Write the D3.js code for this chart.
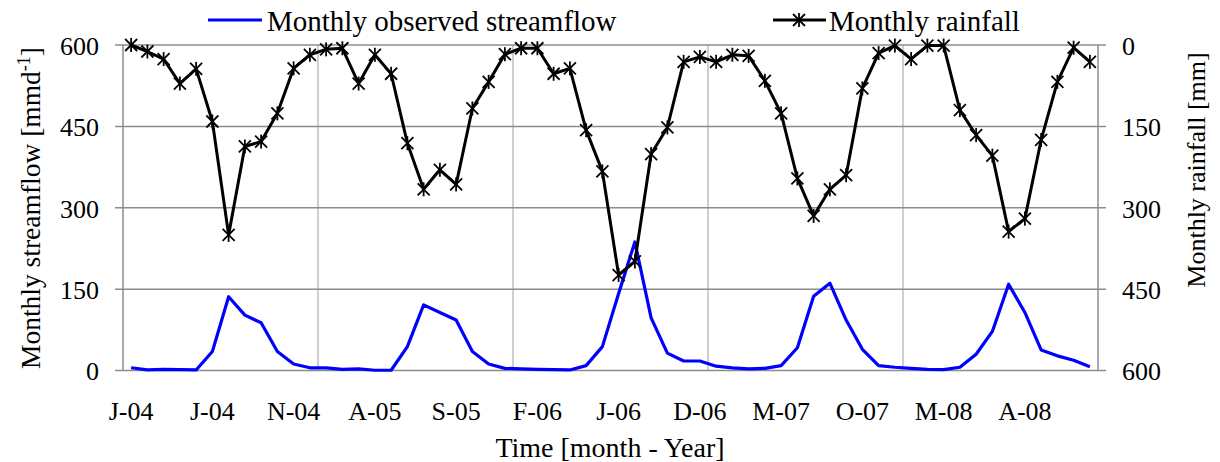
<!DOCTYPE html>
<html>
<head>
<meta charset="utf-8">
<script src="https://cdn.jsdelivr.net/npm/d3@7"></script>
<style>
  html, body { margin: 0; padding: 0; background: #fff; }
  svg, svg text { font-family: "Liberation Serif", "Times New Roman", Times, "DejaVu Serif", serif; }
  svg { display: block; }
</style>
</head>
<body>
<svg id="chart" width="1220" height="462"></svg>
<script>
// Months Jan 2004 – Dec 2008
const months = [
  "2004-01","2004-02","2004-03","2004-04","2004-05","2004-06","2004-07","2004-08","2004-09","2004-10","2004-11","2004-12",
  "2005-01","2005-02","2005-03","2005-04","2005-05","2005-06","2005-07","2005-08","2005-09","2005-10","2005-11","2005-12",
  "2006-01","2006-02","2006-03","2006-04","2006-05","2006-06","2006-07","2006-08","2006-09","2006-10","2006-11","2006-12",
  "2007-01","2007-02","2007-03","2007-04","2007-05","2007-06","2007-07","2007-08","2007-09","2007-10","2007-11","2007-12",
  "2008-01","2008-02","2008-03","2008-04","2008-05","2008-06","2008-07","2008-08","2008-09","2008-10","2008-11","2008-12"
];

// Monthly observed streamflow [mm/d]
const streamflow = [
  5, 1, 2, 1.5, 1, 35, 136, 102, 88, 35,
  12, 5, 5, 2, 3, 0.5, 0.5, 44, 121, 107,
  93, 35, 12, 4, 3, 2, 1.5, 1, 9, 44,
  142, 237, 97, 32, 17.5, 17.5, 8, 5, 3, 4,
  9, 42, 137, 161, 93, 39, 9, 6, 4, 2,
  1.5, 6, 30, 72, 159, 107, 38, 27, 19, 7
];

// Monthly rainfall [mm] (plotted on the inverted right axis)
const rainfall = [
  0, 12, 26, 71, 44, 141, 350, 187, 178, 126,
  43, 18, 8, 6, 71, 18, 53, 181, 266, 230,
  257, 117, 68, 17, 6, 6, 53, 43, 157, 233,
  424, 399, 201, 152, 31, 22, 31, 18, 20, 66,
  126, 246, 315, 266, 240, 80, 15, 1, 26, 1,
  1, 120, 166, 204, 344, 320, 175, 68, 5, 31
];

// Category tick labels, one every five months
const tickMonths = ["2004-01","2004-06","2004-11","2005-04","2005-09","2006-02","2006-07","2006-12","2007-05","2007-10","2008-03","2008-08"];
const tickLabels = ["J-04","J-04","N-04","A-05","S-05","F-06","J-06","D-06","M-07","O-07","M-08","A-08"];
// Year boundaries carrying vertical gridlines
const yearStarts = ["2005-01","2006-01","2007-01","2008-01"];
const valueTicks = [0, 150, 300, 450, 600];

const FONT = '"Liberation Serif", "Times New Roman", Times, "DejaVu Serif", serif';
const svg = d3.select("#chart");
const plotL = 123, plotR = 1098, plotT = 45, plotB = 370.5;

const x = d3.scaleBand().domain(months).range([plotL, plotR]).padding(0);
const cx = m => x(m) + x.bandwidth() / 2;
const yFlow = d3.scaleLinear().domain([0, 600]).range([plotB, plotT]);
const yRain = d3.scaleLinear().domain([0, 600]).range([plotT, plotB]);

// Vertical gridlines between years
svg.append("g").selectAll("line").data(yearStarts).join("line")
  .attr("x1", d => x(d)).attr("x2", d => x(d))
  .attr("y1", plotT).attr("y2", plotB)
  .attr("stroke", "#bfbfbf").attr("stroke-width", 1.5);

// Horizontal gridlines spanning both tick sets
svg.append("g").selectAll("line").data(valueTicks).join("line")
  .attr("x1", plotL - 8).attr("x2", plotR + 8)
  .attr("y1", d => yFlow(d)).attr("y2", d => yFlow(d))
  .attr("stroke", "#8c8c8c").attr("stroke-width", 1.5);

// Axis lines
svg.append("line").attr("x1", plotL).attr("x2", plotL).attr("y1", plotT).attr("y2", plotB)
  .attr("stroke", "#8c8c8c").attr("stroke-width", 1.5);
svg.append("line").attr("x1", plotR).attr("x2", plotR).attr("y1", plotT).attr("y2", plotB)
  .attr("stroke", "#8c8c8c").attr("stroke-width", 1.5);

// Left axis (streamflow)
const gl = svg.append("g").attr("transform", `translate(${plotL - 8},0)`)
  .call(d3.axisLeft(yFlow).tickValues(valueTicks).tickSize(0).tickPadding(16));
gl.attr("font-family", FONT).attr("font-size", 26);
gl.select(".domain").remove();
gl.selectAll("text").attr("fill", "#000").attr("dy", "0.36em");

// Right axis (rainfall, inverted)
const gr = svg.append("g").attr("transform", `translate(${plotR + 8},0)`)
  .call(d3.axisRight(yRain).tickValues(valueTicks).tickSize(0).tickPadding(16));
gr.attr("font-family", FONT).attr("font-size", 26);
gr.select(".domain").remove();
gr.selectAll("text").attr("fill", "#000").attr("dy", "0.36em");

// Bottom axis
const tickMap = new Map(tickMonths.map((m, i) => [m, tickLabels[i]]));
const gb = svg.append("g").attr("transform", `translate(0,${plotB})`)
  .call(d3.axisBottom(x).tickValues(tickMonths).tickFormat(m => tickMap.get(m)).tickSize(0).tickPadding(49));
gb.attr("font-family", FONT).attr("font-size", 26);
gb.select(".domain").remove();
gb.selectAll("text").attr("fill", "#000").attr("dy", "0");

// Streamflow line
svg.append("path").datum(streamflow)
  .attr("fill", "none").attr("stroke", "#0000ff").attr("stroke-width", 3.2)
  .attr("stroke-linejoin", "round")
  .attr("d", d3.line().x((d, i) => cx(months[i])).y(d => yFlow(d)));

// Rainfall line
svg.append("path").datum(rainfall)
  .attr("fill", "none").attr("stroke", "#000").attr("stroke-width", 3)
  .attr("stroke-linejoin", "round")
  .attr("d", d3.line().x((d, i) => cx(months[i])).y(d => yRain(d)));

// Star markers (X with vertical bar)
function star(g, s) {
  g.append("line").attr("x1", -s).attr("y1", -s).attr("x2", s).attr("y2", s);
  g.append("line").attr("x1", -s).attr("y1", s).attr("x2", s).attr("y2", -s);
  g.append("line").attr("x1", 0).attr("y1", -s - 1).attr("x2", 0).attr("y2", s + 1);
}
svg.append("g").attr("stroke", "#000").attr("stroke-width", 1.8)
  .selectAll("g").data(rainfall).join("g")
  .attr("transform", (d, i) => `translate(${cx(months[i])},${yRain(d)})`)
  .each(function () { star(d3.select(this), 6); });

// Legend
const lg = svg.append("g").attr("font-size", 29).attr("font-family", FONT);
lg.append("line").attr("x1", 208).attr("x2", 262).attr("y1", 20).attr("y2", 20)
  .attr("stroke", "#0000ff").attr("stroke-width", 3.2);
lg.append("text").attr("x", 267).attr("y", 30.5).text("Monthly observed streamflow");
lg.append("line").attr("x1", 773).attr("x2", 826).attr("y1", 20).attr("y2", 20)
  .attr("stroke", "#000").attr("stroke-width", 3);
const lm = lg.append("g").attr("transform", "translate(799,20)").attr("stroke", "#000").attr("stroke-width", 1.8);
star(lm, 6);
lg.append("text").attr("x", 829).attr("y", 30.5).text("Monthly rainfall");

// Axis titles
const titles = svg.append("g").attr("font-family", FONT).attr("text-anchor", "middle");
titles.append("text").attr("font-size", 28).attr("x", 610).attr("y", 457)
  .text("Time [month - Year]");

const lt = titles.append("text").attr("font-size", 27.5).attr("transform", "translate(40,208) rotate(-90)");
lt.append("tspan").text("Monthly streamflow [mmd");
lt.append("tspan").attr("font-size", 18).attr("baseline-shift", "super").text("-1");
lt.append("tspan").text("]");

titles.append("text").attr("font-size", 26).attr("transform", "translate(1205,170) rotate(-90)")
  .text("Monthly rainfall [mm]");
</script>
</body>
</html>
